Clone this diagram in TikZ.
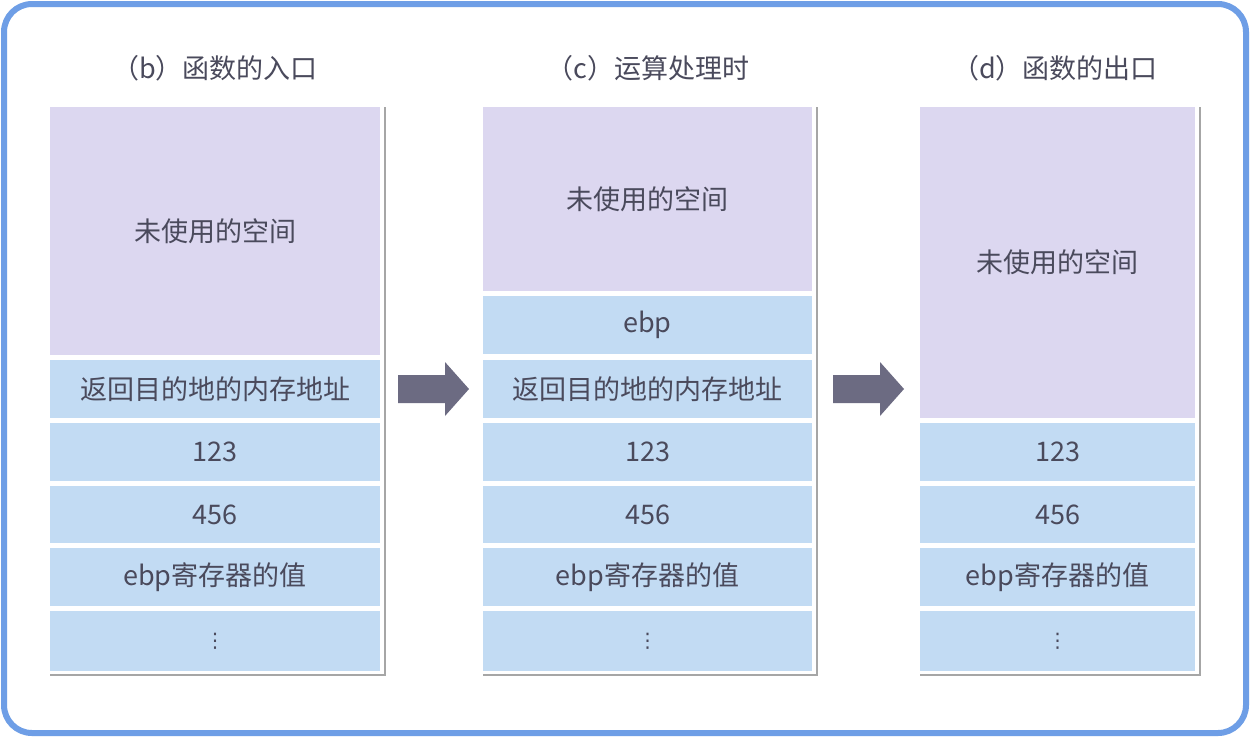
\documentclass[tikz,border=0pt]{standalone}
\usepackage{fontspec}
\setmainfont{Noto Sans CJK SC}
\newfontfamily\dvs{DejaVu Sans}
\definecolor{purp}{HTML}{DCD7F0}
\definecolor{cell}{HTML}{C2DBF3}
\definecolor{txt}{HTML}{4A4A5C}
\definecolor{arr}{HTML}{6C6B82}
\definecolor{frame}{HTML}{6E9EE6}
\tikzset{
  cellbox/.style={draw=none,fill=cell,minimum width=#1,text=txt,font=\fontsize{27pt}{30pt}\selectfont,inner sep=0pt},
  title/.style={text=txt,font=\fontsize{27pt}{30pt}\selectfont},
  shade/.style={draw=gray!70,line width=1.5pt},
  bigarrow/.style={fill=arr,draw=none}
}
\begin{document}
\begin{tikzpicture}[x=1pt,y=-1pt]
\useasboundingbox (0,0) rectangle (1250,740);
\fill[white] (0,0) rectangle (1250,740);
\draw[frame,line width=6pt,rounded corners=28pt] (4,4) rectangle (1246,733);
% titles
\node[title] (tb) at (215,68) {（b）函数的入口};
\node[title] (tc) at (648,68) {（c）运算处理时};
\node[title] (td) at (1055,68) {（d）函数的出口};
% column b
\draw[shade] (385,107) -- (385,675) -- (50,675);
\node[cellbox=330pt,minimum height=248pt,fill=purp] (bu) at (215,231) {未使用的空间};
\node[cellbox=330pt,minimum height=58pt] (br) at (215,389) {返回目的地的内存地址};
\node[cellbox=330pt,minimum height=58pt] (b1) at (215,452) {123};
\node[cellbox=330pt,minimum height=57pt] (b4) at (215,514.5) {456};
\node[cellbox=330pt,minimum height=58pt] (be) at (215,577) {ebp寄存器的值};
\node[cellbox=330pt,minimum height=60pt] (bd) at (215,641) {\dvs\fontsize{20pt}{22pt}\selectfont ⋮};
% column c
\draw[shade] (817,107) -- (817,675) -- (483,675);
\node[cellbox=329pt,minimum height=184pt,fill=purp] (cu) at (647.5,199) {未使用的空间};
\node[cellbox=329pt,minimum height=58pt] (ce0) at (647.5,325) {ebp};
\node[cellbox=329pt,minimum height=58pt] (cr) at (647.5,389) {返回目的地的内存地址};
\node[cellbox=329pt,minimum height=58pt] (c1) at (647.5,452) {123};
\node[cellbox=329pt,minimum height=57pt] (c4) at (647.5,514.5) {456};
\node[cellbox=329pt,minimum height=58pt] (ce) at (647.5,577) {ebp寄存器的值};
\node[cellbox=329pt,minimum height=60pt] (cd) at (647.5,641) {\dvs\fontsize{20pt}{22pt}\selectfont ⋮};
% column d
\draw[shade] (1200,107) -- (1200,675) -- (920,675);
\node[cellbox=275pt,minimum height=311pt,fill=purp] (du) at (1057.5,262.5) {未使用的空间};
\node[cellbox=275pt,minimum height=58pt] (d1) at (1057.5,452) {123};
\node[cellbox=275pt,minimum height=57pt] (d4) at (1057.5,514.5) {456};
\node[cellbox=275pt,minimum height=58pt] (de) at (1057.5,577) {ebp寄存器的值};
\node[cellbox=275pt,minimum height=60pt] (dd) at (1057.5,641) {\dvs\fontsize{20pt}{22pt}\selectfont ⋮};
% arrows
\fill[bigarrow] (398,375) -- (445,375) -- (445,362) -- (469,389) -- (445,416) -- (445,403) -- (398,403) -- cycle;
\fill[bigarrow] (833,375) -- (880,375) -- (880,362) -- (904,389) -- (880,416) -- (880,403) -- (833,403) -- cycle;
\end{tikzpicture}
\end{document}
